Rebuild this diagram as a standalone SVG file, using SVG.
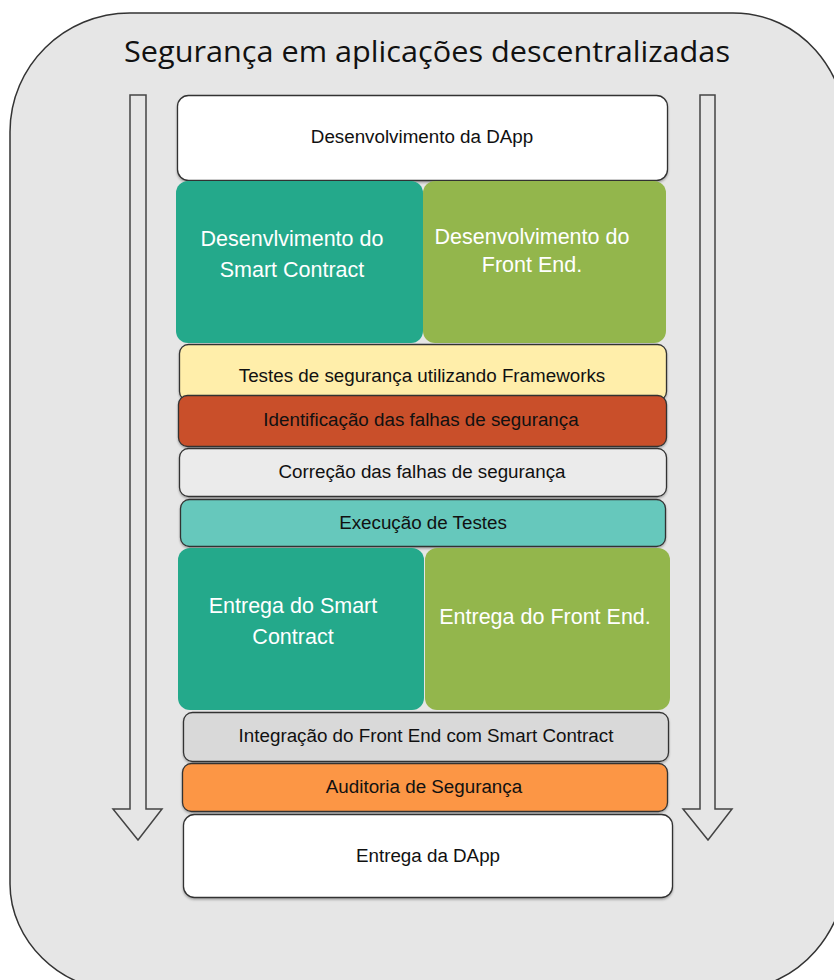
<svg xmlns="http://www.w3.org/2000/svg" width="834" height="980" viewBox="0 0 834 980">
  <defs>
    <filter id="shadow" x="-5%" y="-10%" width="110%" height="130%">
      <feDropShadow dx="0" dy="1.5" stdDeviation="1" flood-color="#000" flood-opacity="0.3"/>
    </filter>
  </defs>
  <style>
    .frame { fill: #e6e6e6; stroke: #333; stroke-width: 1.5; }
    .arrow { fill: #e6e6e6; stroke: #444; stroke-width: 1.5; stroke-linejoin: miter; }
    .box { stroke: #333; stroke-width: 1.3; filter: url(#shadow); }
    .block { stroke: none; }
    .lbl { font-family: "Liberation Sans", Arial, sans-serif; font-size: 18.8px; fill: #111; text-anchor: middle; }
    .big { font-family: "Liberation Sans", Arial, sans-serif; font-size: 21.5px; fill: #fff; text-anchor: middle; }
    .title { font-family: "Open Sans", "Noto Sans", sans-serif; font-size: 30px; fill: #111; }
  </style>

  <rect width="834" height="980" fill="#ffffff"/>

  <!-- outer rounded container -->
  <path class="frame" d="M 130,13 H 733 C 800,13 848,70 848,140 V 860 C 848,930 800,990 730,990 H 118 C 60,990 10,940 10,884 V 132 C 10,66 64,13 130,13 Z"/>
  <text class="title" x="124" y="62" textLength="606" lengthAdjust="spacingAndGlyphs">Segurança em aplicações descentralizadas</text>

  <!-- flow direction arrows -->
  <g id="connectors">
    <path class="arrow" d="M 130,95 H 146 V 809 H 162 L 138,840 L 113,809 H 130 Z"/>
    <path class="arrow" d="M 700,95 H 715 V 809 H 732 L 708,840 L 683,809 H 700 Z"/>
  </g>

  <g id="dev-dapp">
    <rect class="box" x="177.5" y="95.5" width="490" height="85" rx="11" fill="#ffffff"/>
    <text class="lbl" x="422" y="143">Desenvolvimento da DApp</text>
  </g>

  <g id="dev-smart-contract">
    <rect class="block" x="176" y="181" width="247" height="162" rx="12" fill="#24a98b"/>
    <text class="big" x="292" y="246">Desenvlvimento do</text>
    <text class="big" x="292" y="277">Smart Contract</text>
  </g>

  <g id="dev-front-end">
    <rect class="block" x="423" y="181" width="243" height="162" rx="12" fill="#93b64c"/>
    <text class="big" x="532" y="244">Desenvolvimento do</text>
    <text class="big" x="532" y="272">Front End.</text>
  </g>

  <g id="security-tests">
    <rect class="box" x="179.5" y="344.5" width="487" height="56" rx="9" fill="#ffeeaa"/>
    <text class="lbl" x="422" y="382">Testes de segurança utilizando Frameworks</text>
  </g>

  <g id="identify-flaws">
    <rect class="box" x="178.5" y="395.5" width="488" height="51" rx="9" fill="#c9502b"/>
    <text class="lbl" x="421" y="426">Identificação das falhas de segurança</text>
  </g>

  <g id="fix-flaws">
    <rect class="box" x="179.5" y="448.5" width="487" height="48" rx="9" fill="#ebebeb"/>
    <text class="lbl" x="422" y="478">Correção das falhas de segurança</text>
  </g>

  <g id="run-tests">
    <rect class="box" x="180.5" y="499.5" width="485" height="47" rx="9" fill="#66c8bc"/>
    <text class="lbl" x="423" y="529">Execução de Testes</text>
  </g>

  <g id="deliver-smart-contract">
    <rect class="block" x="178" y="548" width="246" height="162" rx="12" fill="#24a98b"/>
    <text class="big" x="293" y="613">Entrega do Smart</text>
    <text class="big" x="293" y="644">Contract</text>
  </g>

  <g id="deliver-front-end">
    <rect class="block" x="425" y="548" width="245" height="162" rx="12" fill="#93b64c"/>
    <text class="big" x="545" y="624">Entrega do Front End.</text>
  </g>

  <g id="integration">
    <rect class="box" x="183.5" y="712.5" width="485" height="49" rx="9" fill="#d9d9d9"/>
    <text class="lbl" x="426" y="742">Integração do Front End com Smart Contract</text>
  </g>

  <g id="audit">
    <rect class="box" x="182.5" y="763.5" width="485" height="48" rx="9" fill="#fc9644"/>
    <text class="lbl" x="424" y="793">Auditoria de Segurança</text>
  </g>

  <g id="deliver-dapp">
    <rect class="box" x="183.5" y="814.5" width="489" height="83" rx="11" fill="#ffffff"/>
    <text class="lbl" x="428" y="862">Entrega da DApp</text>
  </g>
</svg>
